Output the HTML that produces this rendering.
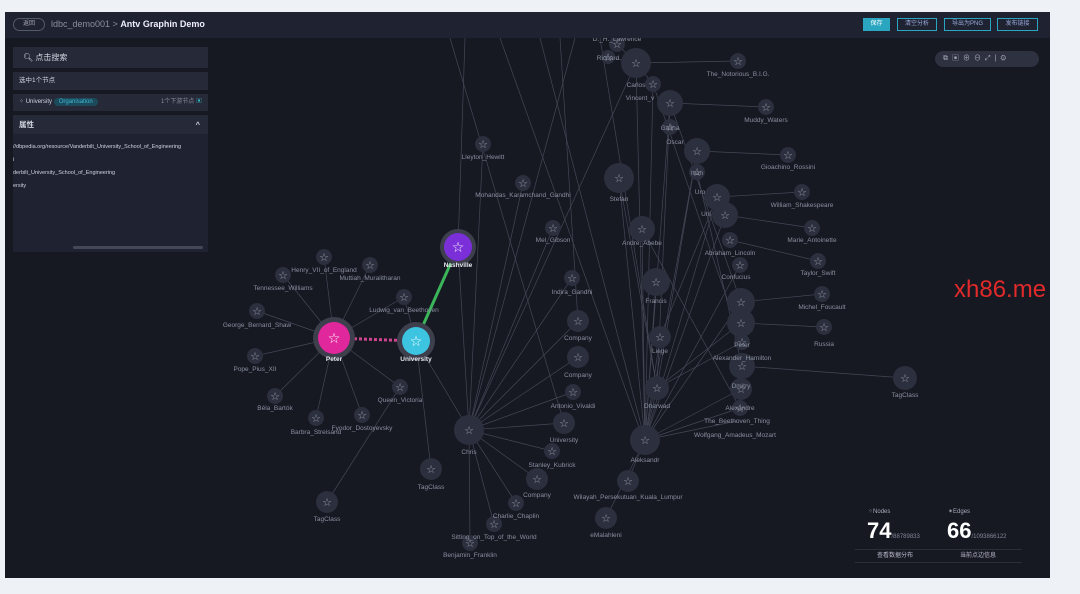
<!DOCTYPE html>
<html><head><meta charset="utf-8">
<style>
*{margin:0;padding:0;box-sizing:border-box}
body{width:1080px;height:594px;background:#eef2f6;position:relative;overflow:hidden;font-family:"Liberation Sans","Noto Sans CJK SC",sans-serif}
#frame{position:absolute;left:5px;top:12px;width:1045px;height:566px;background:#161822;overflow:hidden}
#top{position:absolute;left:0;top:0;width:100%;height:26px;background:#1f2230;color:#8a90a0;font-size:9px}
.btn{position:absolute;top:6px;height:13px;border:1px solid #2aa6c0;color:#9ad;font-size:6px;line-height:11px;text-align:center}
.panel{position:absolute;left:8px;width:195px;background:#262a38;color:#d0d4de;font-size:7px}
svg{position:absolute;left:0;top:0}
</style></head><body>
<div id="frame">
<svg width="1045" height="566" viewBox="5 12 1045 566" font-family="Liberation Sans, sans-serif">
<g stroke="#444856" stroke-width="0.7" fill="none">
<line x1="334" y1="338" x2="324" y2="257"/><line x1="334" y1="338" x2="370" y2="265"/><line x1="334" y1="338" x2="283" y2="275"/><line x1="334" y1="338" x2="404" y2="297"/><line x1="334" y1="338" x2="257" y2="311"/><line x1="334" y1="338" x2="255" y2="356"/><line x1="334" y1="338" x2="275" y2="396"/><line x1="334" y1="338" x2="400" y2="387"/><line x1="334" y1="338" x2="316" y2="418"/><line x1="334" y1="338" x2="362" y2="415"/>
<line x1="416" y1="341" x2="404" y2="297"/><line x1="416" y1="341" x2="469" y2="430"/><line x1="416" y1="341" x2="431" y2="469"/><line x1="400" y1="387" x2="327" y2="502"/>
<line x1="458" y1="247" x2="465" y2="38"/><line x1="483" y1="144" x2="469" y2="430"/><line x1="523" y1="183" x2="469" y2="430"/><line x1="553" y1="228" x2="469" y2="430"/><line x1="458" y1="247" x2="469" y2="430"/>
<line x1="469" y1="430" x2="572" y2="278"/><line x1="469" y1="430" x2="578" y2="321"/><line x1="469" y1="430" x2="578" y2="357"/><line x1="469" y1="430" x2="573" y2="392"/><line x1="469" y1="430" x2="564" y2="423"/><line x1="469" y1="430" x2="552" y2="451"/><line x1="469" y1="430" x2="537" y2="479"/><line x1="469" y1="430" x2="516" y2="503"/><line x1="469" y1="430" x2="494" y2="524"/><line x1="469" y1="430" x2="470" y2="543"/><line x1="469" y1="430" x2="636" y2="63"/>
<line x1="450" y1="38" x2="564" y2="423"/><line x1="500" y1="38" x2="640" y2="430"/><line x1="540" y1="38" x2="645" y2="440"/><line x1="575" y1="38" x2="469" y2="430"/><line x1="560" y1="38" x2="578" y2="321"/><line x1="600" y1="38" x2="657" y2="388"/>
<line x1="645" y1="440" x2="636" y2="63"/><line x1="645" y1="440" x2="653" y2="84"/><line x1="645" y1="440" x2="670" y2="103"/><line x1="645" y1="440" x2="697" y2="151"/><line x1="645" y1="440" x2="619" y2="178"/><line x1="645" y1="440" x2="642" y2="229"/><line x1="645" y1="440" x2="656" y2="282"/><line x1="645" y1="440" x2="660" y2="337"/><line x1="645" y1="440" x2="657" y2="388"/><line x1="645" y1="440" x2="628" y2="481"/><line x1="645" y1="440" x2="606" y2="518"/><line x1="645" y1="440" x2="717" y2="197"/><line x1="645" y1="440" x2="725" y2="215"/><line x1="645" y1="440" x2="740" y2="265"/><line x1="645" y1="440" x2="741" y2="302"/><line x1="645" y1="440" x2="741" y2="389"/><line x1="645" y1="440" x2="740" y2="408"/><line x1="645" y1="440" x2="737" y2="421"/>
<line x1="657" y1="388" x2="697" y2="151"/><line x1="657" y1="388" x2="670" y2="103"/><line x1="657" y1="388" x2="741" y2="323"/><line x1="657" y1="388" x2="742" y2="342"/><line x1="619" y1="178" x2="657" y2="388"/><line x1="642" y1="229" x2="740" y2="408"/>
<line x1="636" y1="63" x2="617" y2="44"/><line x1="636" y1="63" x2="608" y2="57"/><line x1="636" y1="63" x2="738" y2="61"/><line x1="636" y1="63" x2="653" y2="84"/><line x1="670" y1="103" x2="766" y2="107"/><line x1="697" y1="151" x2="788" y2="155"/><line x1="717" y1="197" x2="802" y2="192"/><line x1="725" y1="215" x2="812" y2="228"/><line x1="730" y1="240" x2="818" y2="261"/><line x1="741" y1="302" x2="822" y2="294"/><line x1="741" y1="323" x2="824" y2="327"/><line x1="741" y1="366" x2="905" y2="378"/>
<line x1="653" y1="84" x2="742" y2="342"/><line x1="670" y1="103" x2="741" y2="302"/><line x1="697" y1="172" x2="742" y2="366"/><line x1="660" y1="337" x2="717" y2="197"/>
</g>
<line x1="416" y1="341" x2="458" y2="247" stroke="#3bb55a" stroke-width="3"/>
<line x1="334" y1="338" x2="416" y2="341" stroke="#d0458f" stroke-width="3" stroke-dasharray="3 2"/>
<g fill="#2c2f3d" stroke="none">
<circle cx="617" cy="44" r="8"/><circle cx="608" cy="57" r="7"/><circle cx="636" cy="63" r="15"/><circle cx="738" cy="61" r="8"/><circle cx="653" cy="84" r="8"/><circle cx="670" cy="103" r="13"/><circle cx="766" cy="107" r="8"/><circle cx="670" cy="127" r="8"/><circle cx="697" cy="151" r="13"/><circle cx="788" cy="155" r="8"/><circle cx="697" cy="172" r="8"/><circle cx="619" cy="178" r="15"/><circle cx="717" cy="197" r="13"/><circle cx="802" cy="192" r="8"/><circle cx="725" cy="215" r="13"/><circle cx="812" cy="228" r="8"/><circle cx="642" cy="229" r="13"/><circle cx="730" cy="240" r="8"/><circle cx="818" cy="261" r="8"/><circle cx="656" cy="282" r="14"/><circle cx="740" cy="265" r="8"/><circle cx="741" cy="302" r="14"/><circle cx="822" cy="294" r="8"/><circle cx="741" cy="323" r="14"/><circle cx="824" cy="327" r="8"/><circle cx="660" cy="337" r="11"/><circle cx="742" cy="342" r="8"/><circle cx="742" cy="366" r="13"/><circle cx="905" cy="378" r="12"/><circle cx="741" cy="389" r="11"/><circle cx="657" cy="388" r="12"/><circle cx="740" cy="408" r="8"/><circle cx="645" cy="440" r="15"/>
<circle cx="483" cy="144" r="8"/><circle cx="523" cy="183" r="8"/><circle cx="553" cy="228" r="8"/><circle cx="572" cy="278" r="8"/><circle cx="578" cy="321" r="11"/><circle cx="578" cy="357" r="11"/><circle cx="573" cy="392" r="8"/><circle cx="564" cy="423" r="11"/><circle cx="469" cy="430" r="15"/><circle cx="552" cy="451" r="8"/><circle cx="537" cy="479" r="11"/><circle cx="628" cy="481" r="11"/><circle cx="516" cy="503" r="8"/><circle cx="606" cy="518" r="11"/><circle cx="494" cy="524" r="8"/><circle cx="470" cy="543" r="8"/><circle cx="431" cy="469" r="11"/><circle cx="327" cy="502" r="11"/>
<circle cx="324" cy="257" r="8"/><circle cx="370" cy="265" r="8"/><circle cx="283" cy="275" r="8"/><circle cx="404" cy="297" r="8"/><circle cx="257" cy="311" r="8"/><circle cx="255" cy="356" r="8"/><circle cx="275" cy="396" r="8"/><circle cx="400" cy="387" r="8"/><circle cx="316" cy="418" r="8"/><circle cx="362" cy="415" r="8"/>
<circle cx="334" cy="338" r="21" fill="#3d3f4c"/><circle cx="416" cy="341" r="19" fill="#3d3f4c"/><circle cx="458" cy="247" r="18" fill="#3d3f4c"/>
</g>
<circle cx="334" cy="338" r="16" fill="#e0279b"/><circle cx="416" cy="341" r="14" fill="#3cc4e0"/><circle cx="458" cy="247" r="14" fill="#7a2fd8"/>
<g fill="#9aa0b0" font-family="DejaVu Sans, sans-serif" font-size="11" text-anchor="middle">
<text x="617" y="48">☆</text><text x="608" y="61">☆</text><text x="636" y="67">☆</text><text x="738" y="65">☆</text><text x="653" y="88">☆</text><text x="670" y="107">☆</text><text x="766" y="111">☆</text><text x="670" y="131">☆</text><text x="697" y="155">☆</text><text x="788" y="159">☆</text><text x="697" y="176">☆</text><text x="619" y="182">☆</text><text x="717" y="201">☆</text><text x="802" y="196">☆</text><text x="725" y="219">☆</text><text x="812" y="232">☆</text><text x="642" y="233">☆</text><text x="730" y="244">☆</text><text x="818" y="265">☆</text><text x="656" y="286">☆</text><text x="740" y="269">☆</text><text x="741" y="306">☆</text><text x="822" y="298">☆</text><text x="741" y="327">☆</text><text x="824" y="331">☆</text><text x="660" y="341">☆</text><text x="742" y="346">☆</text><text x="742" y="370">☆</text><text x="905" y="382">☆</text><text x="741" y="393">☆</text><text x="657" y="392">☆</text><text x="740" y="412">☆</text><text x="645" y="444">☆</text>
<text x="483" y="148">☆</text><text x="523" y="187">☆</text><text x="553" y="232">☆</text><text x="572" y="282">☆</text><text x="578" y="325">☆</text><text x="578" y="361">☆</text><text x="573" y="396">☆</text><text x="564" y="427">☆</text><text x="469" y="434">☆</text><text x="552" y="455">☆</text><text x="537" y="483">☆</text><text x="628" y="485">☆</text><text x="516" y="507">☆</text><text x="606" y="522">☆</text><text x="494" y="528">☆</text><text x="470" y="547">☆</text><text x="431" y="473">☆</text><text x="327" y="506">☆</text>
<text x="324" y="261">☆</text><text x="370" y="269">☆</text><text x="283" y="279">☆</text><text x="404" y="301">☆</text><text x="257" y="315">☆</text><text x="255" y="360">☆</text><text x="275" y="400">☆</text><text x="400" y="391">☆</text><text x="316" y="422">☆</text><text x="362" y="419">☆</text>
<g fill="#fff" font-size="14"><text x="334" y="343">☆</text><text x="416" y="346">☆</text><text x="458" y="252">☆</text></g>
</g>
<g fill="#8a90a0" font-size="6.5" text-anchor="middle">
<text x="617" y="41">D._H._Lawrence</text><text x="608" y="60">Richard</text><text x="738" y="76">The_Notorious_B.I.G.</text><text x="636" y="87">Carlos</text><text x="640" y="100">Vincent_v</text><text x="766" y="122">Muddy_Waters</text><text x="670" y="130">Galina</text><text x="675" y="144">Oscar</text><text x="788" y="169">Gioachino_Rossini</text><text x="697" y="175">Ivan</text><text x="619" y="201">Stefan</text><text x="700" y="194">Uro</text><text x="802" y="207">William_Shakespeare</text><text x="706" y="216">Uni</text><text x="812" y="242">Marie_Antoinette</text><text x="642" y="245">Andre_Abebe</text><text x="730" y="255">Abraham_Lincoln</text><text x="818" y="275">Taylor_Swift</text><text x="656" y="303">Francis</text><text x="736" y="279">Confucius</text><text x="822" y="309">Michel_Foucault</text><text x="824" y="346">Russia</text><text x="660" y="353">Liege</text><text x="742" y="347">Peter</text><text x="742" y="360">Alexander_Hamilton</text><text x="905" y="397">TagClass</text><text x="741" y="388">Dmitry</text><text x="657" y="408">Dharwad</text><text x="740" y="410">Alexandre</text><text x="737" y="423">The_Beethoven_Thing</text><text x="735" y="437">Wolfgang_Amadeus_Mozart</text><text x="645" y="462">Aleksandr</text>
<text x="483" y="159">Lleyton_Hewitt</text><text x="523" y="197">Mohandas_Karamchand_Gandhi</text><text x="553" y="242">Mel_Gibson</text><text x="572" y="294">Indira_Gandhi</text><text x="578" y="340">Company</text><text x="578" y="377">Company</text><text x="573" y="408">Antonio_Vivaldi</text><text x="564" y="442">University</text><text x="469" y="454">Chris</text><text x="552" y="467">Stanley_Kubrick</text><text x="537" y="497">Company</text><text x="628" y="499">Wilayah_Persekutuan_Kuala_Lumpur</text><text x="516" y="518">Charlie_Chaplin</text><text x="606" y="537">eMalahleni</text><text x="494" y="539">Sitting_on_Top_of_the_World</text><text x="470" y="557">Benjamin_Franklin</text><text x="431" y="489">TagClass</text><text x="327" y="521">TagClass</text>
<text x="324" y="272">Henry_VII_of_England</text><text x="370" y="280">Muttiah_Muralitharan</text><text x="283" y="290">Tennessee_Williams</text><text x="404" y="312">Ludwig_van_Beethoven</text><text x="257" y="327">George_Bernard_Shaw</text><text x="255" y="371">Pope_Pius_XII</text><text x="275" y="410">Béla_Bartók</text><text x="400" y="402">Queen_Victoria</text><text x="316" y="434">Barbra_Streisand</text><text x="362" y="430">Fyodor_Dostoyevsky</text>
<g fill="#e8eaf0" font-weight="bold"><text x="334" y="361">Peter</text><text x="416" y="361">University</text><text x="458" y="267">Nashville</text></g>
</g>
</svg>
<div id="top">
<div style="position:absolute;left:8px;top:6px;width:32px;height:13px;border:1px solid #555a68;border-radius:7px;font-size:6px;line-height:11px;text-align:center;color:#aab">返回</div>
<div style="position:absolute;left:46px;top:7px">ldbc_demo001 &gt; <span style="color:#eef;font-weight:bold">Antv Graphin Demo</span></div>
<div class="btn" style="left:858px;width:27px;background:#2aa6c0;color:#fff">保存</div>
<div class="btn" style="left:892px;width:40px">清空分析</div>
<div class="btn" style="left:939px;width:47px">导出为PNG</div>
<div class="btn" style="left:992px;width:41px">发布链接</div>
</div>
<div style="position:absolute;left:930px;top:39px;width:104px;height:16px;border-radius:8px;background:#2e3140;color:#aab;font-size:7px;line-height:16px;padding-left:8px;letter-spacing:4px">⧉▣⊕⊖⤢|⚙</div>
<div class="panel" style="top:35px;height:21px;font-size:8px;line-height:21px;padding-left:10px">🔍︎ 点击搜索</div>
<div class="panel" style="top:60px;height:18px;line-height:18px;padding-left:6px;font-size:6.5px">选中1个节点</div>
<div class="panel" style="top:82px;height:17px;line-height:17px;padding-left:6px;font-size:6px">⁘ University <span style="background:#1d4a5a;color:#3bb8d8;border-radius:6px;padding:1px 5px">Organisation</span><span style="position:absolute;right:6px;color:#889">1个下游节点 <span style="color:#3bc">▣</span></span></div>
<div class="panel" style="top:103px;height:19px;line-height:19px;padding-left:6px;font-size:7.5px;font-weight:bold">属性<span style="position:absolute;right:8px">^</span></div>
<div class="panel" style="top:122px;height:118px;background:#1f2230;font-size:5.5px;line-height:13px;padding-top:7px;white-space:nowrap;overflow:hidden">//dbpedia.org/resource/Vanderbilt_University_School_of_Engineering<br>i<br>derbilt_University_School_of_Engineering<br>ersity
<div style="position:absolute;left:60px;bottom:3px;width:130px;height:3px;background:#444858;border-radius:2px"></div></div>
<div style="position:absolute;left:850px;top:496px;width:170px;color:#fff">
<div style="position:absolute;left:13px;top:0;font-size:6px;color:#aab">⁘Nodes</div>
<div style="position:absolute;left:93px;top:0;font-size:6px;color:#aab">✶Edges</div>
<div style="position:absolute;left:12px;top:10px;font-size:22px;font-weight:bold">74<span style="font-size:6px;font-weight:normal;color:#889">/88789833</span></div>
<div style="position:absolute;left:92px;top:10px;font-size:22px;font-weight:bold">66<span style="font-size:6px;font-weight:normal;color:#889">/1093866122</span></div>
<div style="position:absolute;left:0;top:41px;width:167px;border-top:1px solid #2a2d3a;border-bottom:1px solid #2a2d3a;height:14px;font-size:6px;color:#bbc;line-height:13px"><span style="position:absolute;left:22px">查看数据分布</span><span style="position:absolute;left:105px">当前点边信息</span></div>
</div>
</div>
<div style="position:absolute;left:954px;top:276px;color:#e12a2a;font-size:24px;font-family:'Liberation Sans',sans-serif">xh86.me</div>
</body></html>
